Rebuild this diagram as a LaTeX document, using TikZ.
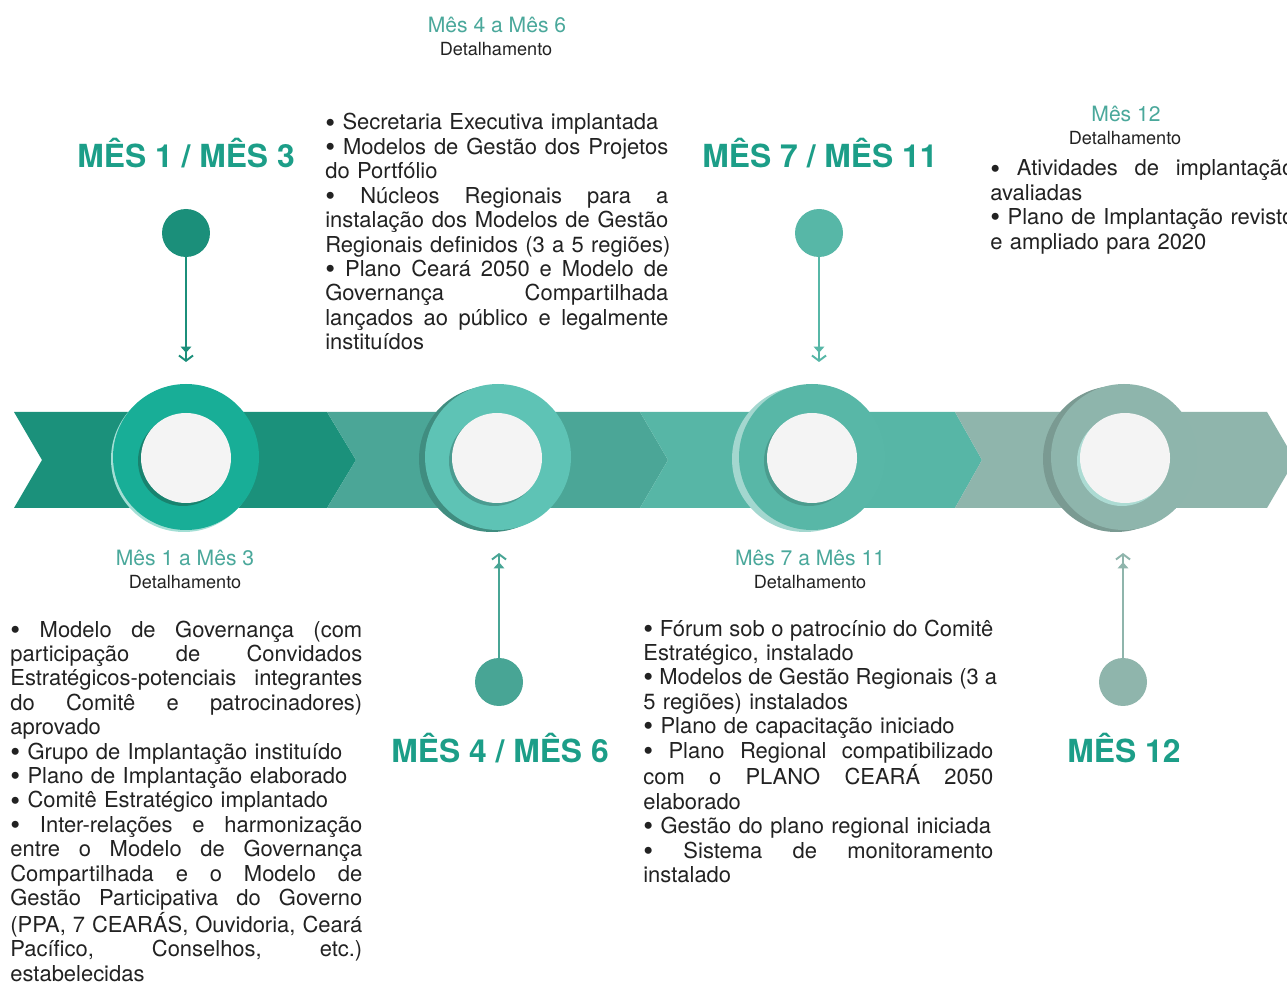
\documentclass[tikz,border=0pt]{standalone}
\usepackage{fontspec}
\setmainfont{TeX Gyre Heros}
\usepackage{tikz}
\usetikzlibrary{arrows.meta}
\definecolor{seg1}{HTML}{1B917B}
\definecolor{seg2}{HTML}{4BA697}
\definecolor{seg3}{HTML}{57B6A6}
\definecolor{seg4}{HTML}{8FB5AC}
\definecolor{ring1}{HTML}{18AE97}
\definecolor{ring2}{HTML}{5EC3B5}
\definecolor{ring3}{HTML}{58B7A7}
\definecolor{ring4}{HTML}{8EB5AC}
\definecolor{paper}{HTML}{F4F4F4}
\definecolor{headteal}{HTML}{1C9E88}
\definecolor{subteal}{HTML}{4AA89B}
\definecolor{ink}{HTML}{222222}
\newcommand{\jline}[1]{\hbox to\hsize{\spaceskip=\fontdimen2\font plus 1fil\relax #1}}
\newcommand{\eline}[1]{\hbox{#1}}
\newcommand{\bul}{\raisebox{-1.2pt}{\fontsize{16}{16}\selectfont•}}

\begin{document}
\begin{tikzpicture}[x=0.02cm,y=-0.02cm,
  hd/.style={anchor=base,inner sep=0pt,text=headteal,font=\fontsize{18.1}{20}\selectfont\bfseries},
  sub/.style={anchor=base,inner sep=0pt,text=subteal,font=\fontsize{12}{14}\selectfont},
  det/.style={anchor=base,inner sep=0pt,text=ink,font=\fontsize{10.3}{12}\selectfont},
  blk/.style={anchor=base west,inner sep=0pt,text=ink,font=\fontsize{12.5}{13.9}\selectfont},
  pin/.style={circle,inner sep=0pt,minimum size=0.96cm},
  pinline/.style={line width=1.1pt,-{Triangle[width=6pt,length=3.5pt,sep=1pt]Straight Barb[width=8pt,length=3pt]}}]
\useasboundingbox (0,0) rectangle (1287,982);
\fill[white] (0,0) rectangle (1287,982);
\definecolor{pin1c}{HTML}{1B8F7A}
\definecolor{pin2c}{HTML}{48A595}
\definecolor{pin3c}{HTML}{57B7A7}
\definecolor{pin4c}{HTML}{8FB5AC}
\fill[seg1] (14,412) -- (327,412) -- (356,460) -- (327,508) -- (14,508) -- (42,460) -- cycle;
\fill[seg2] (327,412) -- (640,412) -- (668,460) -- (640,508) -- (327,508) -- (356,460) -- cycle;
\fill[seg3] (640,412) -- (955,412) -- (982,460) -- (955,508) -- (640,508) -- (668,460) -- cycle;
\fill[seg4] (955,412) -- (1267,412) -- (1295,460) -- (1267,508) -- (955,508) -- (982,460) -- cycle;
\fill[ring1!40!white] (184,459) circle[radius=73];
\fill[ring1] (186,457) circle[radius=73];
\fill[seg1!90!black] (183,461) circle[radius=45];
\fill[paper] (186,458) circle[radius=45];
\fill[seg2!85!black] (492,459) circle[radius=73];
\fill[ring2] (498,457) circle[radius=73];
\fill[ring2!80!black] (494,461) circle[radius=45];
\fill[paper] (497,458) circle[radius=45];
\fill[ring3!55!white] (805,459) circle[radius=73];
\fill[ring3] (812,457) circle[radius=73];
\fill[ring3!85!black] (809,461) circle[radius=45];
\fill[paper] (812,458) circle[radius=45];
\fill[seg4!85!black] (1116,459) circle[radius=73];
\fill[ring4] (1124,457) circle[radius=73];
\fill[ring3!50!white] (1122,461) circle[radius=45];
\fill[paper] (1125,458) circle[radius=45];
\node [pin,fill=pin1c](p1) at (186,233) {};
\coordinate (t1) at (186,362);
\draw [pinline,pin1c] (p1) -- (t1);
\node [pin,fill=pin2c](p2) at (499,682) {};
\coordinate (t2) at (499,553);
\draw [pinline,pin2c] (p2) -- (t2);
\node [pin,fill=pin3c](p3) at (819,233) {};
\coordinate (t3) at (819,362);
\draw [pinline,pin3c] (p3) -- (t3);
\node [pin,fill=pin4c](p4) at (1123,682) {};
\coordinate (t4) at (1123,553);
\draw [pinline,pin4c] (p4) -- (t4);
\node [hd](h1) at (186,168) {MÊS 1 / MÊS 3};
\node [hd](h2) at (500,762) {MÊS 4 / MÊS 6};
\node [hd](h3) at (820,168) {MÊS 7 / MÊS 11};
\node [hd](h4) at (1124,762) {MÊS 12};
\node [sub](s1) at (185,565) {Mês 1 a Mês 3};
\node [det](d1) at (185,588) {Detalhamento};
\node [sub](s2) at (497,33) {Mês 4 a Mês 6};
\node [det](d2) at (496,56) {Detalhamento};
\node [sub](s3) at (810,565) {Mês 7 a Mês 11};
\node [det](d3) at (810,588) {Detalhamento};
\node [sub](s4) at (1126,122) {Mês 12};
\node [det](d4) at (1125,145) {Detalhamento};
\node [blk,text width=7.04cm](b1) at (10,637) {%
\jline{\bul{} Modelo de Governança (com}
\jline{participação de Convidados}
\jline{Estratégicos-potenciais integrantes}
\jline{do Comitê e patrocinadores)}
\eline{aprovado}
\eline{\bul{} Grupo de Implantação instituído}
\eline{\bul{} Plano de Implantação elaborado}
\eline{\bul{} Comitê Estratégico implantado}
\jline{\bul{} Inter-relações e harmonização}
\jline{entre o Modelo de Governança}
\jline{Compartilhada e o Modelo de}
\jline{Gestão Participativa do Governo}
\jline{(PPA, 7 CEARÁS, Ouvidoria, Ceará}
\jline{Pacífico, Conselhos, etc.)}
\eline{estabelecidas}};
\node [blk,text width=6.86cm](b2) at (325,130) {%
\eline{\bul{} Secretaria Executiva implantada}
\jline{\bul{} Modelos de Gestão dos Projetos}
\eline{do Portfólio}
\jline{\bul{} Núcleos Regionais para a}
\jline{instalação dos Modelos de Gestão}
\eline{Regionais definidos (3 a 5 regiões)}
\jline{\bul{} Plano Ceará 2050 e Modelo de}
\jline{Governança Compartilhada}
\jline{lançados ao público e legalmente}
\eline{instituídos}};
\node [blk,text width=7cm](b3) at (643,636) {%
\jline{\bul{} Fórum sob o patrocínio do Comitê}
\eline{Estratégico, instalado}
\jline{\bul{} Modelos de Gestão Regionais (3 a}
\eline{5 regiões) instalados}
\eline{\bul{} Plano de capacitação iniciado}
\jline{\bul{} Plano Regional compatibilizado}
\jline{com o PLANO CEARÁ 2050}
\eline{elaborado}
\eline{\bul{} Gestão do plano regional iniciada}
\jline{\bul{} Sistema de monitoramento}
\eline{instalado}};
\node [blk,text width=6.08cm](b4) at (990,176) {%
\jline{\bul{} Atividades de implantação}
\eline{avaliadas}
\jline{\bul{} Plano de Implantação revisto}
\eline{e ampliado para 2020}};
\end{tikzpicture}
\end{document}
